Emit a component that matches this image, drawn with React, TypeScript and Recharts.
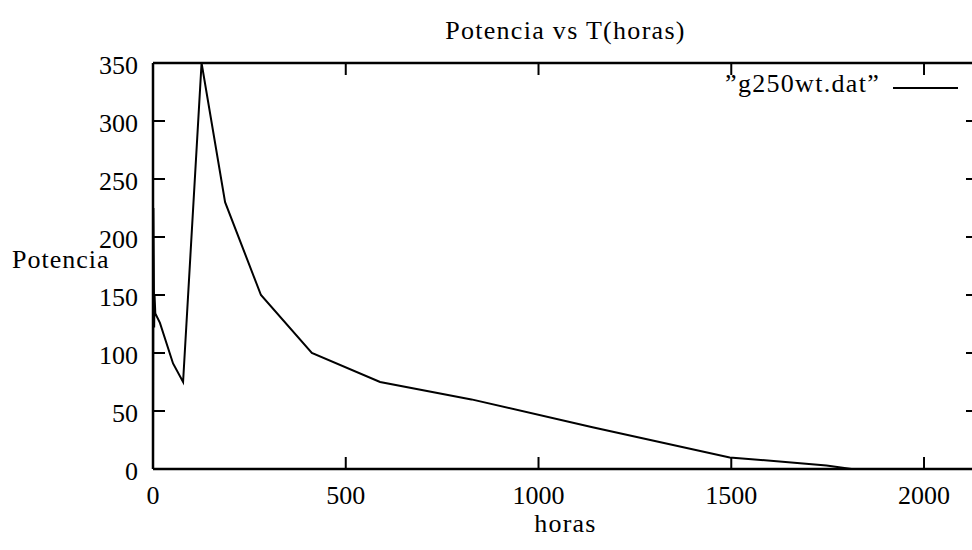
import React from 'react';
import { LineChart, Line, XAxis, YAxis, Legend, Label } from 'recharts';

const horas = [0, 1, 2, 3, 4, 6, 18, 52, 78, 126, 187, 280, 412, 589, 826, 1140, 1496, 1747, 1812];
const potencia = [0, 225, 178, 122, 150, 134, 126, 91, 75, 350, 230, 150, 100, 75, 60, 36, 10, 3, 0];
const xTicks = [0, 500, 1000, 1500, 2000];
const yTicks = [0, 50, 100, 150, 200, 250, 300, 350];
const xDomain = [0, 2140];
const yDomain = [0, 350];
const seriesName = '\u201Dg250wt.dat\u201D';
const title = 'Potencia vs T(horas)';
const xLabel = 'horas';
const yLabel = 'Potencia';

const data = horas.map((h, i) => ({ h, p: potencia[i] }));

const FONT = '"Liberation Serif", "Times New Roman", serif';
const FS = 26;

const BottomTick = (props: any) => {
  const { x, y, payload } = props;
  return (
    <g>
      <line x1={x} y1={y} x2={x} y2={y - 12} stroke="#000" strokeWidth={2} />
      <text x={x} y={y + 35} textAnchor="middle" fontFamily={FONT} fontSize={FS} fill="#000">
        {payload.value}
      </text>
    </g>
  );
};

const TopTick = (props: any) => {
  const { x, y } = props;
  return <line x1={x} y1={y} x2={x} y2={y + 12} stroke="#000" strokeWidth={2} />;
};

const LeftTick = (props: any) => {
  const { x, y, payload } = props;
  return (
    <g>
      <line x1={x} y1={y} x2={x + 12} y2={y} stroke="#000" strokeWidth={2} />
      <text x={x - 15} y={y + 11} textAnchor="end" fontFamily={FONT} fontSize={FS} fill="#000">
        {payload.value}
      </text>
    </g>
  );
};

const RightTick = (props: any) => {
  const { x, y } = props;
  return <line x1={x} y1={y} x2={x - 12} y2={y} stroke="#000" strokeWidth={2} />;
};

const renderLegend = () => (
  <div style={{ display: 'flex', justifyContent: 'flex-end', alignItems: 'flex-start', fontFamily: FONT, fontSize: FS, lineHeight: '30px', color: '#000' }}>
    <span style={{ letterSpacing: '1.3px', whiteSpace: 'nowrap' }}>{seriesName}</span>
    <div style={{ marginLeft: 13, marginTop: 18, width: 65, height: 2, background: '#000' }} />
  </div>
);

export default function App() {
  return (
    <div style={{ position: 'absolute', left: 0, top: 0, width: 972, height: 550, overflow: 'hidden', background: '#fff' }}>
      <LineChart width={980} height={550} data={data} margin={{ top: 0, right: 0, bottom: 0, left: 0 }}>
        <XAxis
          dataKey="h"
          type="number"
          domain={xDomain}
          ticks={xTicks}
          interval={0}
          allowDataOverflow
          height={81}
          tickLine={false}
          tickSize={0}
          tickMargin={0}
          tick={BottomTick}
          axisLine={{ stroke: '#000', strokeWidth: 2.5 }}
        >
          <Label
            content={(p: any) => {
              const vb = p.viewBox;
              return (
                <text x={vb.x + vb.width / 2} y={vb.y + vb.height - 18} textAnchor="middle" fontFamily={FONT} fontSize={FS} fill="#000" letterSpacing={1.2}>
                  {xLabel}
                </text>
              );
            }}
          />
        </XAxis>
        <XAxis
          xAxisId="top"
          orientation="top"
          dataKey="h"
          type="number"
          domain={xDomain}
          ticks={xTicks}
          interval={0}
          allowDataOverflow
          height={63}
          tickLine={false}
          tickSize={0}
          tickMargin={0}
          tick={TopTick}
          axisLine={{ stroke: '#000', strokeWidth: 2.5 }}
        >
          <Label
            content={(p: any) => {
              const vb = p.viewBox;
              return (
                <text x={vb.x + vb.width / 2} y={vb.y + 39} textAnchor="middle" fontFamily={FONT} fontSize={FS} fill="#000" letterSpacing={1.3}>
                  {title}
                </text>
              );
            }}
          />
        </XAxis>
        <YAxis
          type="number"
          domain={yDomain}
          ticks={yTicks}
          interval={0}
          allowDataOverflow
          width={153}
          tickLine={false}
          tickSize={0}
          tickMargin={0}
          tick={LeftTick}
          axisLine={{ stroke: '#000', strokeWidth: 2.5 }}
        >
          <Label
            content={(p: any) => {
              const vb = p.viewBox;
              return (
                <text x={vb.x + 12} y={vb.y + vb.height / 2 + 2} textAnchor="start" fontFamily={FONT} fontSize={FS} fill="#000" letterSpacing={1}>
                  {yLabel}
                </text>
              );
            }}
          />
        </YAxis>
        <YAxis
          yAxisId="right"
          orientation="right"
          type="number"
          domain={yDomain}
          ticks={yTicks}
          interval={0}
          allowDataOverflow
          width={2}
          tickLine={false}
          tickSize={0}
          tickMargin={0}
          tick={RightTick}
          axisLine={{ stroke: '#000', strokeWidth: 2.5 }}
        />
        <Legend
          layout="horizontal"
          verticalAlign="middle"
          align="center"
          content={renderLegend}
          wrapperStyle={{ position: 'absolute', left: 600, top: 69, width: 358, height: 30 }}
        />
        <Line
          type="linear"
          dataKey="p"
          name={seriesName}
          stroke="#000"
          strokeWidth={2}
          dot={false}
          isAnimationActive={false}
        />
      </LineChart>
    </div>
  );
}
